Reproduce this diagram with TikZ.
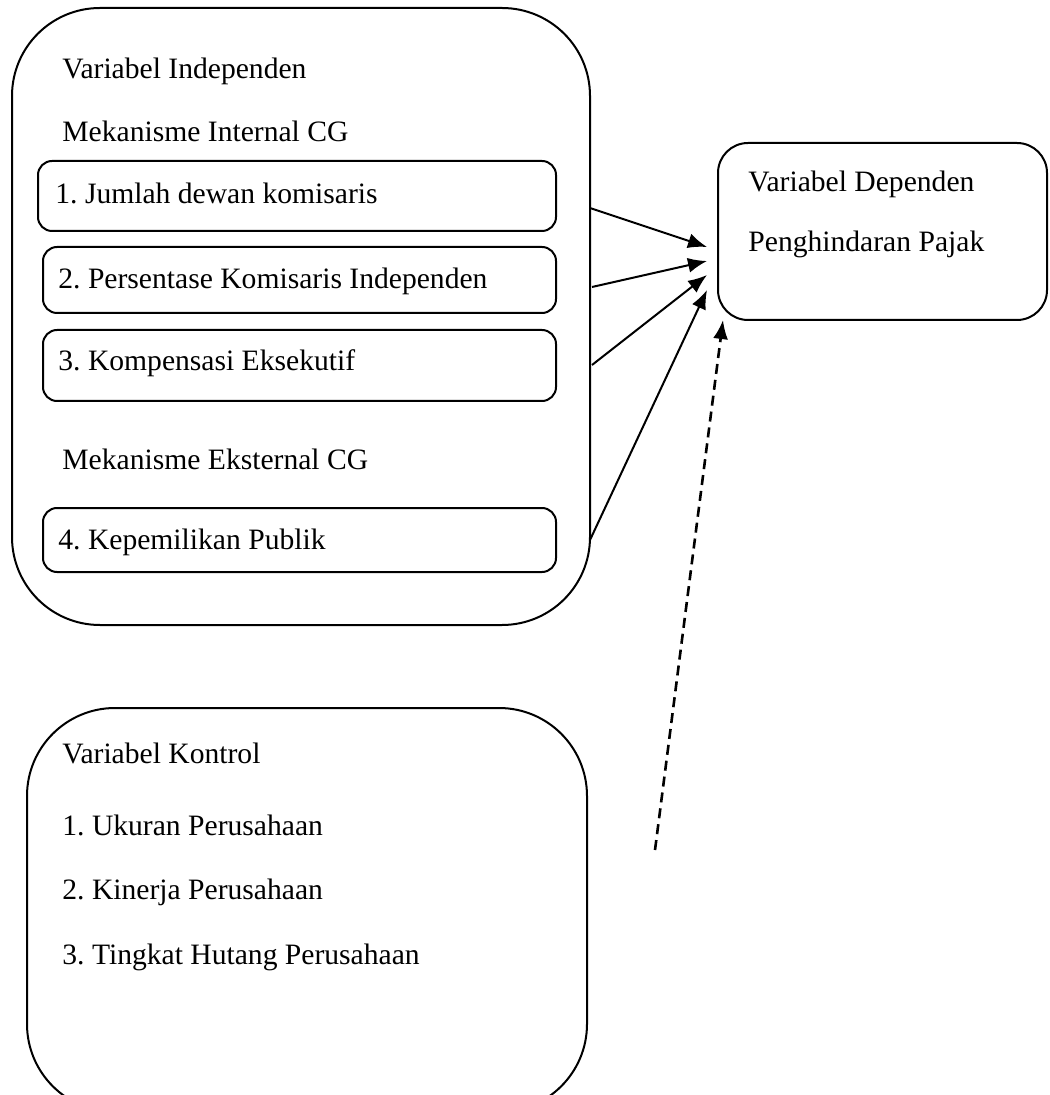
\documentclass[tikz,border=0pt]{standalone}
\usepackage{fontspec}
\setmainfont{Liberation Serif}
\usetikzlibrary{arrows.meta,positioning,fit}
\frenchspacing

\begin{document}
\begin{tikzpicture}[
    x=0.5pt,y=-0.5pt,
    bigbox/.style={rectangle,draw,line width=1pt,rounded corners=44pt,inner sep=0pt},
    itembox/.style={rectangle,draw,line width=1pt,rounded corners=7pt,inner sep=0pt},
    depbox/.style={rectangle,draw,line width=1pt,rounded corners=15pt,inner sep=0pt},
    txt/.style={anchor=base west,inner sep=0pt,font=\fontsize{14.8}{17}\selectfont},
    arrow/.style={-{Latex[length=9.5pt,width=7.5pt]},line width=1pt},
    dasharrow/.style={arrow,dashed,dash pattern=on 5pt off 3pt,line width=1.3pt}
]
\useasboundingbox (0,0) rectangle (1049,1095);

% Independent variables
\node[bigbox,fit={(12,8) (590,625)}] (indep) {};
\node[txt] (indeptitle) at (62,79) {Variabel Independen};
\node[txt] (internal) at (62,142) {Mekanisme Internal CG};

\node[itembox,fit={(38,161) (556,231)}] (box1) {};
\node[itembox,fit={(43,247) (556,313)}] (box2) {};
\node[itembox,fit={(43,330) (556,401)}] (box3) {};
\node[txt] (jumlah) at (55,204) {1. Jumlah dewan komisaris};
\node[txt] (persen) at (58,289) {2. Persentase Komisaris Independen};
\node[txt] (kompen) at (58,371) {3. Kompensasi Eksekutif};

\node[txt] (external) at (62,469) {Mekanisme Eksternal CG};
\node[itembox,fit={(43,508) (556,572)}] (box4) {};
\node[txt] (publik) at (58,549) {4. Kepemilikan Publik};

% Dependent variable
\node[depbox,fit={(718,143) (1047,320)}] (dep) {};
\node[txt] (deptitle) at (748,192) {Variabel Dependen};
\node[txt] (pajak) at (748,252) {Penghindaran Pajak};

% Control variables
\node[bigbox,fit={(27,708) (587,1112)}] (kontrol) {};
\node[txt] (kontroltitle) at (62,763) {Variabel Kontrol};
\node[txt] (ukuran) at (62,835) {1. Ukuran Perusahaan};
\node[txt] (kinerja) at (62,899) {2. Kinerja Perusahaan};
\node[txt] (hutang) at (62,964) {3. Tingkat Hutang Perusahaan};

% Arrow end points
\coordinate (s1) at (590,208);
\coordinate (s2) at (592,287);
\coordinate (s3) at (592,365);
\coordinate (s4) at (590,540);
\coordinate (s5) at (655,850);
\coordinate (e1) at (707,247);
\coordinate (e2) at (707,261);
\coordinate (e3) at (707,275);
\coordinate (e4) at (707,290);
\coordinate (e5) at (723,320);

% Arrows
\draw[arrow] (s1) -- (e1);
\draw[arrow] (s2) -- (e2);
\draw[arrow] (s3) -- (e3);
\draw[arrow] (s4) -- (e4);
\draw[dasharrow] (s5) -- (e5);

\end{tikzpicture}
\end{document}
